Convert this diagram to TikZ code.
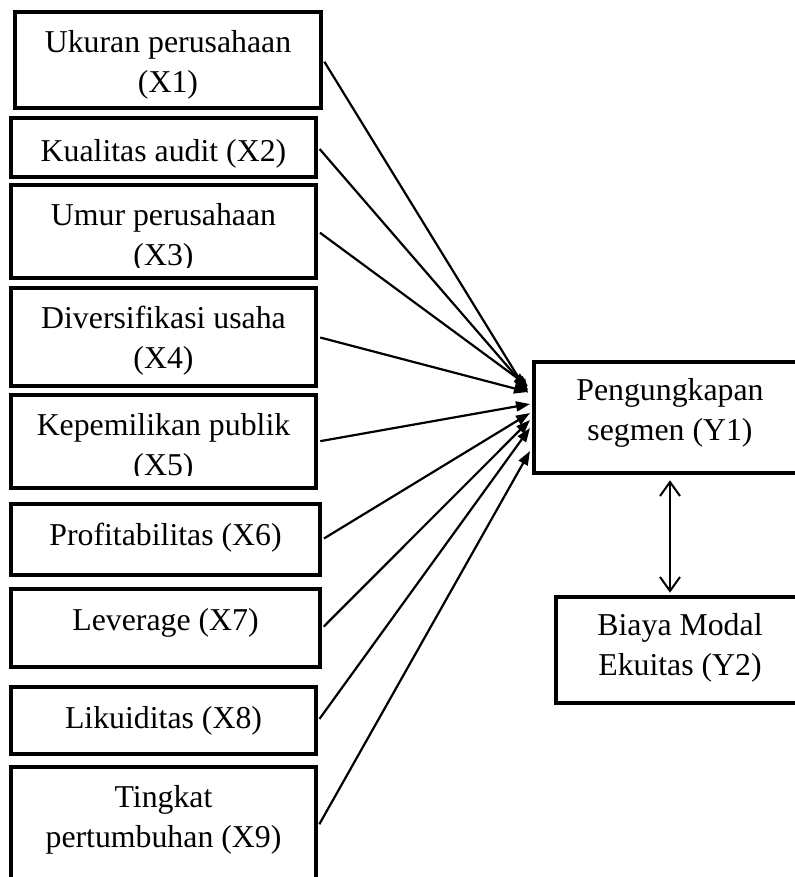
\documentclass[tikz,border=0pt]{standalone}
\usepackage{fontspec}
\setmainfont{Liberation Serif}
\usetikzlibrary{arrows.meta, positioning, calc}

\tikzset{
  varbox/.style={draw, line width=2.3pt, inner sep=0pt, minimum width=152.5pt},
  boxtext/.style={anchor=base, align=center, inner sep=0pt, font=\fontsize{15.9}{20}\selectfont},
  link/.style={line width=1.1pt, -{Triangle[length=7pt, width=5pt]}, shorten <=1pt},
  twoway/.style={line width=1pt, {Straight Barb[length=7pt, width=10pt]}-{Straight Barb[length=7pt, width=10pt]}, shorten <=2.5pt, shorten >=1pt},
}

\begin{document}
\begin{tikzpicture}[x=0.5pt, y=-0.5pt]
  \clip (0,0) rectangle (795,877);

  % Independent variables (left column)
  \node[varbox, minimum width=153pt, minimum height=48pt] (x1) at (168,60) {};
  \node[varbox, minimum height=29.5pt] (x2) at (163.5,147.5) {};
  \node[varbox, minimum height=46.5pt] (x3) at (163.5,231.5) {};
  \node[varbox, minimum height=49pt] (x4) at (163.5,337) {};
  \node[varbox, minimum height=46.5pt] (x5) at (163.5,441.5) {};
  \node[varbox, minimum width=154.5pt, minimum height=35.5pt] (x6) at (165.5,539.5) {};
  \node[varbox, minimum width=154.5pt, minimum height=39pt] (x7) at (165.5,628) {};
  \node[varbox, minimum height=33.5pt] (x8) at (163.5,720.5) {};
  \node[varbox, minimum height=59pt] (x9) at (163.5,826) {};

  % Dependent variables (right column)
  \node[varbox, minimum width=136pt, minimum height=55.5pt] (y1) at (670,417.5) {};
  \node[varbox, minimum width=124pt, minimum height=53pt] (y2) at (680,650) {};

  % Box texts, last baseline measured from the top of each box
  \node[boxtext] (x1t) at ($(x1.north)+(0,83)$) {Ukuran perusahaan\\(X1)};
  \node[boxtext] (x2t) at ($(x2.north)+(0,46)$) {Kualitas audit (X2)};
  \begin{scope}
    \clip (x3.north west) rectangle ($(x3.south east)+(0,-13)$);
    \node[boxtext] (x3t) at ($(x3.north)+(0,83)$) {Umur perusahaan\\(X3)};
  \end{scope}
  \node[boxtext] (x4t) at ($(x4.north)+(0,83)$) {Diversifikasi usaha\\(X4)};
  \begin{scope}
    \clip (x5.north west) rectangle ($(x5.south east)+(0,-15)$);
    \node[boxtext] (x5t) at ($(x5.north)+(0,83)$) {Kepemilikan publik\\(X5)};
  \end{scope}
  \node[boxtext] (x6t) at ($(x6.north)+(0,44)$) {Profitabilitas (X6)};
  \node[boxtext] (x7t) at ($(x7.north)+(0,44)$) {Leverage (X7)};
  \node[boxtext] (x8t) at ($(x8.north)+(0,44)$) {Likuiditas (X8)};
  \node[boxtext] (x9t) at ($(x9.north)+(0,83)$) {Tingkat\\pertumbuhan (X9)};
  \node[boxtext] (y1t) at ($(y1.north)+(0,81)$) {Pengungkapan\\segmen (Y1)};
  \node[boxtext] (y2t) at ($(y2.north)+(0,81)$) {Biaya Modal\\Ekuitas (Y2)};

  % Arrow tips on the left side of Y1
  \coordinate (t1) at (528,393);
  \coordinate (t2) at (528,390);
  \coordinate (t3) at (528,386);
  \coordinate (t4) at (528,392);
  \coordinate (t5) at (530,404);
  \coordinate (t6) at (530,413);
  \coordinate (t7) at (530,420);
  \coordinate (t8) at (530,428);
  \coordinate (t9) at (530,451);

  % Paths X -> Y1
  \draw[link] (x1.east) -- (t1);
  \draw[link] (x2.east) -- (t2);
  \draw[link] (x3.east) -- (t3);
  \draw[link] (x4.east) -- (t4);
  \draw[link] (x5.east) -- (t5);
  \draw[link] (x6.east) -- (t6);
  \draw[link] (x7.east) -- (t7);
  \draw[link] (x8.east) -- (t8);
  \draw[link] (x9.east) -- (t9);

  % Y1 <-> Y2
  \draw[twoway] (y1.south) -- (y1.south |- y2.north);
\end{tikzpicture}
\end{document}
